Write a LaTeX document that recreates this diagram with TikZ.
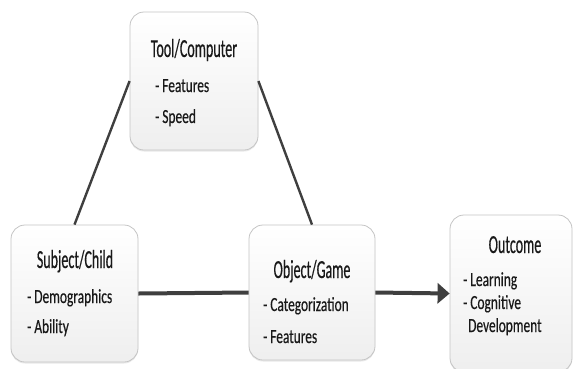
\documentclass[tikz,border=0pt]{standalone}
\usepackage{fontspec}
\setmainfont{Carlito}
\newfontfamily\titlef{Carlito}[FakeStretch=0.54,FakeBold=0.4]
\newfontfamily\itemf{Carlito}[FakeStretch=0.67,FakeBold=0.4]
\usetikzlibrary{arrows.meta,shadows}
\definecolor{boxline}{HTML}{C4C4C4}
\definecolor{conn}{HTML}{3F3F3F}
\tikzset{
  box/.style={draw=boxline, line width=0.8pt, rounded corners=14pt, top color=white, bottom color=gray!13,
    drop shadow={opacity=0.18, shadow xshift=0pt, shadow yshift=-1.5pt}, inner sep=0pt},
  ttl/.style={anchor=base, inner sep=0pt, font=\titlef\fontsize{26}{28}\selectfont, text=black!90},
  itm/.style={anchor=base west, inner sep=0pt, font=\itemf\fontsize{20}{22}\selectfont, text=black!90},
  thin/.style={draw=conn, line width=2.4pt},
  thick/.style={draw=conn, line width=4pt},
}
\begin{document}
\begin{tikzpicture}[x=1pt,y=-1pt]
\useasboundingbox (0,0) rectangle (575,368);
\node[box, minimum width=128pt, minimum height=138pt] (tool) at (194,81) {};
\node[box, minimum width=127pt, minimum height=137pt] (subj) at (74.5,293.5) {};
\node[box, minimum width=126pt, minimum height=135pt] (obj) at (312,292.5) {};
\node[box, minimum width=122pt, minimum height=157pt] (out) at (511,293.5) {};

\node[ttl] (toolt) at (194,57) {Tool/Computer};
\node[itm] (tool1) at (155,92) {- Features};
\node[itm] (tool2) at (155,123) {- Speed};

\node[ttl] (subjt) at (75,268) {Subject/Child};
\node[itm] (subj1) at (27,303) {- Demographics};
\node[itm] (subj2) at (27,333) {- Ability};

\node[ttl] (objt) at (312,278) {Object/Game};
\node[itm] (obj1) at (263,311) {- Categorization};
\node[itm] (obj2) at (263,343) {- Features};

\node[ttl] (outt) at (515,253) {Outcome};
\node[itm] (out1) at (463,286) {- Learning};
\node[itm] (out2) at (463,309) {- Cognitive};
\node[itm] (out3) at (468,332) {Development};

\draw[thin] (tool.west) -- (subj.north);
\draw[thin] (tool.east) -- (obj.north);
\draw[thick] (subj.east) -- (obj.west);
\draw[thick, -{Triangle[length=12pt,width=20pt]}] (obj.east) -- (out.west);
\end{tikzpicture}
\end{document}
